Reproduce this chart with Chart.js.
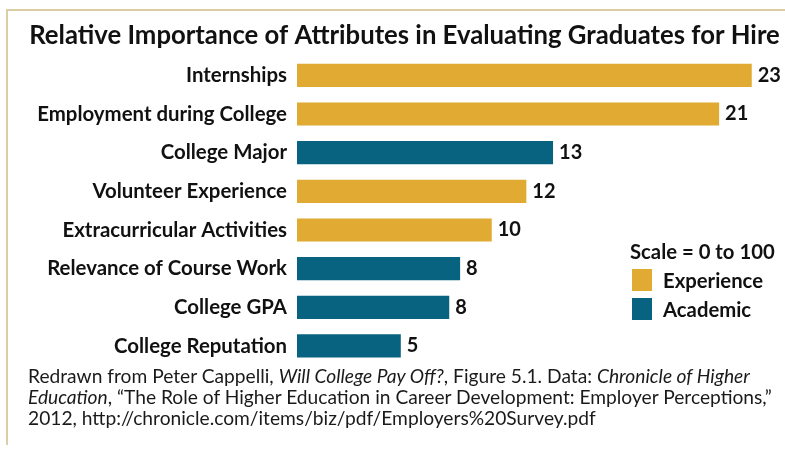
<!DOCTYPE html>
<html lang="en">
<head>
  <meta charset="UTF-8">
  <title>Relative Importance of Attributes</title>
  <script src="https://cdn.jsdelivr.net/npm/chart.js@4"></script>
  <style>
    body {
      margin: 0;
      background: #fff;
      font-family: 'Lato', sans-serif;
    }
    #wrap {
      position: relative;
      width: 785px;
      height: 449px;
      overflow: hidden;
    }
    #frame {
      position: absolute;
      left: 6px;
      top: 9px;
      right: 0;
      height: 434px;
      border-top: 2px solid #dccda5;
      border-left: 2px solid #dccda5;
    }
    canvas {
      position: absolute;
      left: 0;
      top: 0;
    }
    #source {
      position: absolute;
      left: 28px;
      top: 365px;
      font-size: 19.2px;
      line-height: 21px;
      color: #1a1a1a;
      white-space: nowrap;
    }
  </style>
</head>
<body>
  <div id="wrap">
    <div id="frame"></div>
    <canvas id="chart" width="785" height="449"></canvas>
    <div id="source">
      Redrawn from Peter Cappelli, <i>Will College Pay Off?</i>, Figure 5.1. Data: <i>Chronicle of Higher</i><br>
      <i>Education</i>, “The Role of Higher Education in Career Development: Employer Perceptions,”<br>
      2012, http://chronicle.com/items/biz/pdf/Employers%20Survey.pdf
    </div>
  </div>

  <script>
    const categories = [
      'Internships',
      'Employment during College',
      'College Major',
      'Volunteer Experience',
      'Extracurricular Activities',
      'Relevance of Course Work',
      'College GPA',
      'College Reputation'
    ];
    // bar lengths as drawn, and the rounded numbers printed next to them
    const values = [23.0, 21.35, 12.95, 11.6, 9.85, 8.25, 7.7, 5.25];
    const shownValues = [23, 21, 13, 12, 10, 8, 8, 5];
    const groups = ['Experience', 'Experience', 'Academic', 'Experience', 'Experience', 'Academic', 'Academic', 'Academic'];
    const seriesNames = ['Experience', 'Academic'];
    const seriesColors = ['#e0aa33', '#07637f'];
    const scaleNote = 'Scale = 0 to 100';
    const xMax = 24.48;

    const datasets = seriesNames.map((name, s) => ({
      label: name,
      data: values.map((v, i) => groups[i] === name ? v : null),
      backgroundColor: seriesColors[s],
      barPercentage: 0.6,
      categoryPercentage: 1
    }));

    const boldFont = (size) => ({ family: 'Lato', size: size, weight: 'bold' });

    // numbers at the end of each bar
    const valueLabels = {
      id: 'valueLabels',
      afterDatasetsDraw(chart) {
        const ctx = chart.ctx;
        ctx.save();
        ctx.font = 'bold 20px Lato';
        ctx.fillStyle = '#111';
        ctx.textAlign = 'left';
        ctx.textBaseline = 'middle';
        chart.data.datasets.forEach((ds, d) => {
          chart.getDatasetMeta(d).data.forEach((bar, i) => {
            if (ds.data[i] == null) return;
            ctx.fillText(String(shownValues[i]), bar.x + 6, bar.y);
          });
        });
        ctx.restore();
      }
    };

    // legend block on the right
    const sideLegend = {
      id: 'sideLegend',
      afterDraw(chart) {
        const ctx = chart.ctx;
        ctx.save();
        ctx.font = 'bold 20.3px Lato';
        ctx.fillStyle = '#111';
        ctx.textBaseline = 'middle';
        ctx.fillText(scaleNote, 630, 252);
        chart.data.datasets.forEach((ds, d) => {
          const y = 269 + d * 29;
          ctx.fillStyle = ds.backgroundColor;
          ctx.fillRect(632, y, 20, 22);
          ctx.fillStyle = '#111';
          ctx.fillText(ds.label, 663, y + 12);
        });
        ctx.restore();
      }
    };

    new Chart(document.getElementById('chart'), {
      type: 'bar',
      data: { labels: categories, datasets: datasets },
      options: {
        indexAxis: 'y',
        responsive: false,
        animation: false,
        layout: { padding: { left: 28, right: 4, top: 0, bottom: 83.7 } },
        scales: {
          x: { display: false, min: 0, max: xMax },
          y: {
            stacked: true,
            grid: { display: false, drawTicks: false },
            border: { display: false },
            ticks: { padding: 10, color: '#111', font: boldFont(20.4) },
            afterFit(scale) { scale.width = 269; }
          }
        },
        plugins: {
          legend: { display: false },
          tooltip: { enabled: false },
          title: {
            display: true,
            text: 'Relative Importance of Attributes in Evaluating Graduates for Hire',
            color: '#111',
            font: boldFont(25.7),
            padding: { top: 20.6, bottom: 4.6 }
          }
        }
      },
      plugins: [valueLabels, sideLegend]
    });
  </script>
</body>
</html>
